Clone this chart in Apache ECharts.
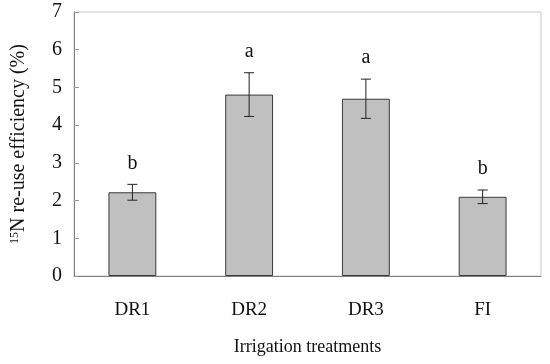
<!DOCTYPE html>
<html><head><meta charset="utf-8">
<script src="https://cdn.jsdelivr.net/npm/echarts@6/dist/echarts.min.js"></script>
<style>html,body{margin:0;padding:0;background:#fff}#c{width:550px;height:364px}</style>
</head><body><div id="c"></div>
<script>
var categories = ['DR1', 'DR2', 'DR3', 'FI'];
var values = [2.22, 4.81, 4.70, 2.10];
var errors = [0.21, 0.58, 0.52, 0.18];
var letters = ['b', 'a', 'a', 'b'];
var yTicks = [0, 1, 2, 3, 4, 5, 6, 7];

var font = 'Liberation Serif';
var errData = categories.map(function (c, i) { return [i, values[i] - errors[i], values[i] + errors[i], letters[i]]; });

var chart = echarts.init(document.getElementById('c'));
chart.setOption({
  animation: false,
  grid: { left: 74, right: 9, top: 12, bottom: 88, containLabel: false, outerBoundsMode: 'none',
    show: true, borderColor: '#c8c8c8', borderWidth: 1 },
  xAxis: {
    type: 'category', data: categories,
    name: 'Irrigation treatments', nameLocation: 'middle', nameGap: 62,
    nameTextStyle: { fontFamily: font, fontSize: 18, color: '#111' },
    axisLine: { lineStyle: { color: '#808080' } },
    axisTick: { inside: true, length: 5, lineStyle: { color: '#999' } },
    axisLabel: { fontFamily: font, fontSize: 19, color: '#111', margin: 25 }
  },
  yAxis: {
    type: 'value', min: yTicks[0], max: yTicks[yTicks.length - 1], interval: 1,
    name: '{sup|15}N re-use efficiency (%)', nameLocation: 'middle', nameGap: 45,
    nameTextStyle: { fontFamily: font, fontSize: 20, color: '#111',
      rich: { sup: { fontFamily: font, fontSize: 12, verticalAlign: 'top', padding: [0, 0, 8, 0], color: '#111' } } },
    axisLine: { show: true, lineStyle: { color: '#808080' } },
    axisTick: { show: true, inside: true, length: 5, lineStyle: { color: '#999' } },
    splitLine: { show: false },
    axisLabel: { fontFamily: font, fontSize: 20, color: '#111', margin: 12 }
  },
  series: [
    {
      type: 'bar', data: values, barWidth: '41%',
      itemStyle: { color: '#c0c0c0', borderColor: '#3a3a3a', borderWidth: 1 }
    },
    {
      type: 'custom', data: errData, z: 10,
      renderItem: function (params, api) {
        var x = api.value(0);
        var lo = api.coord([x, api.value(1)]);
        var hi = api.coord([x, api.value(2)]);
        var w = 5;
        var st = { stroke: '#222', lineWidth: 1 };
        return {
          type: 'group',
          children: [
            { type: 'line', shape: { x1: hi[0], y1: hi[1], x2: lo[0], y2: lo[1] }, style: st },
            { type: 'line', shape: { x1: hi[0] - w, y1: hi[1], x2: hi[0] + w, y2: hi[1] }, style: st },
            { type: 'line', shape: { x1: lo[0] - w, y1: lo[1], x2: lo[0] + w, y2: lo[1] }, style: st },
            { type: 'text', style: { text: api.value(3), x: hi[0], y: hi[1] - 21, align: 'center', verticalAlign: 'middle',
                fontFamily: font, fontSize: 20, fill: '#111' } }
          ]
        };
      }
    }
  ]
});
</script></body></html>
